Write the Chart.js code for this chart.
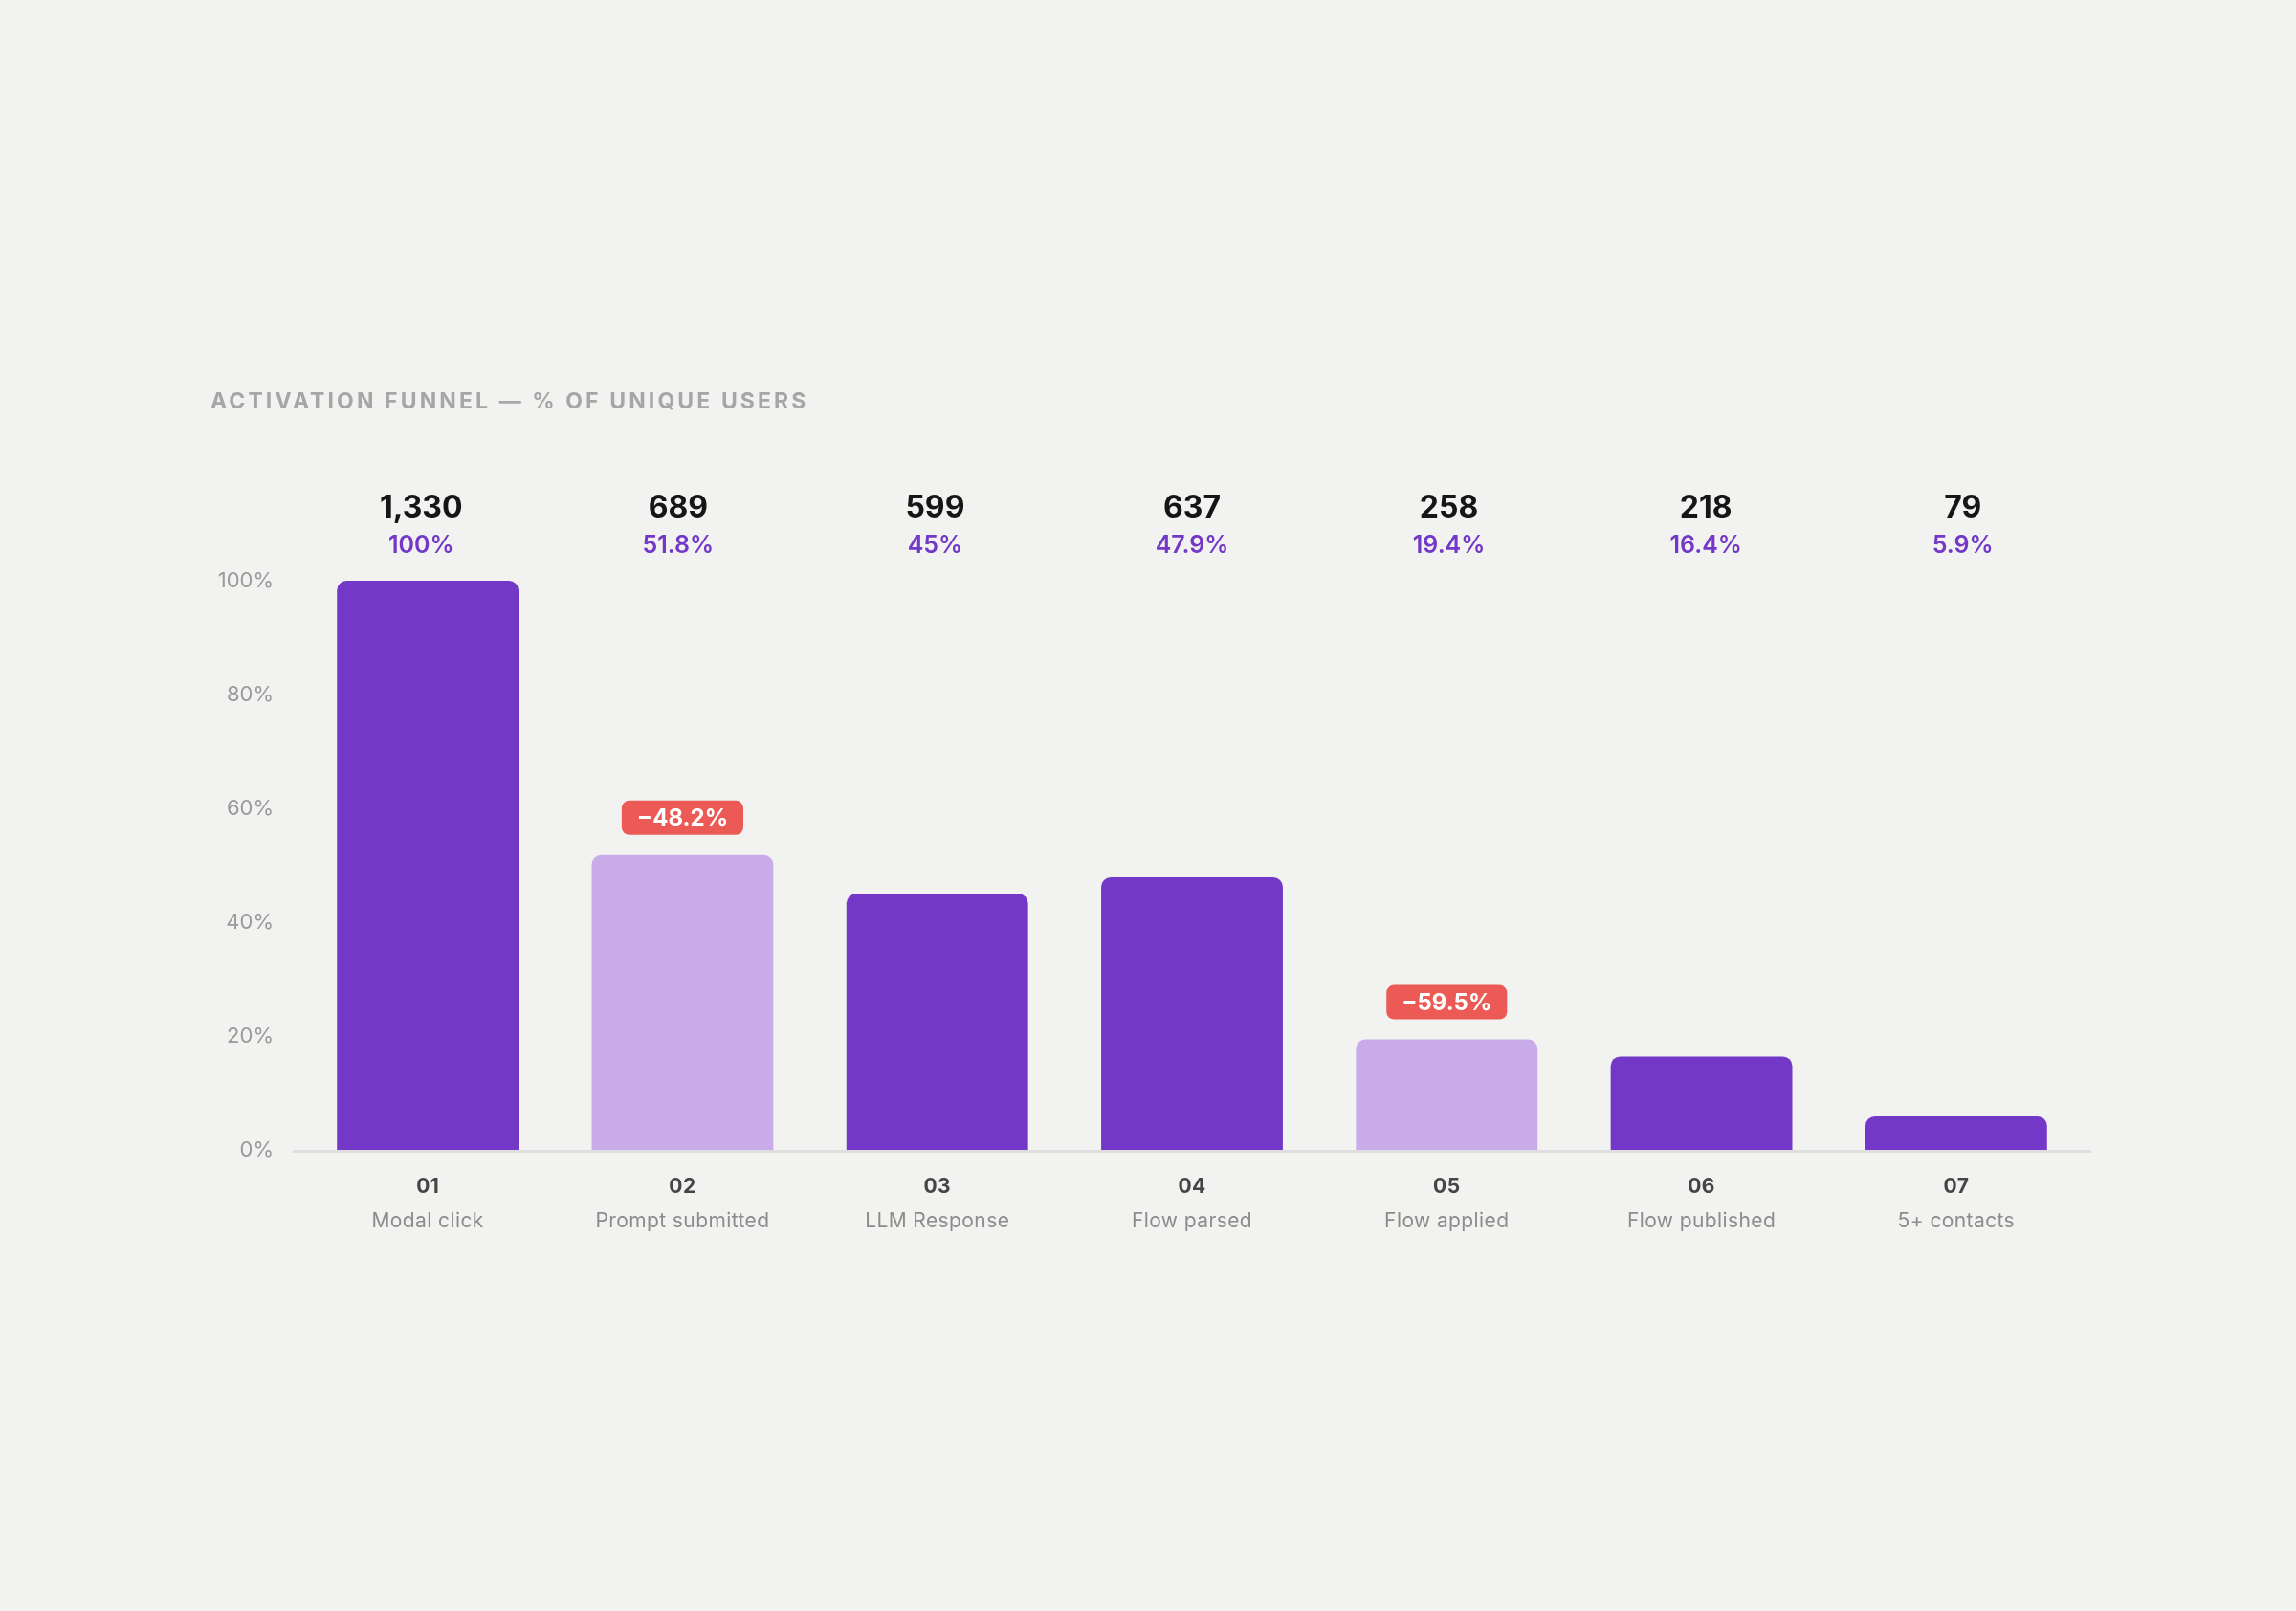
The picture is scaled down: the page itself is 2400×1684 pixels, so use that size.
<!DOCTYPE html>
<html><head><meta charset="utf-8">
<script src="https://cdn.jsdelivr.net/npm/chart.js@4"></script>
<style>html,body{margin:0;padding:0;background:#f2f2f0;}canvas{display:block}</style>
</head><body>
<canvas id="c" width="2400" height="1684"></canvas>
<script>
const chartTitle = "ACTIVATION FUNNEL — % OF UNIQUE USERS";
const stepCodes = ["01","02","03","04","05","06","07"];
const stepNames = ["Modal click","Prompt submitted","LLM Response","Flow parsed","Flow applied","Flow published","5+ contacts"];
const userCounts = [1330,689,599,637,258,218,79];
const sharePct = [100,51.8,45,47.9,19.4,16.4,5.9];
const dropLabels = [null,"−48.2%",null,null,"−59.5%",null,null];
const yTickValues = [0,20,40,60,80,100];

const DARK = "#7338c7", LIGHT = "#c9abe9", FONT = "Inter, 'Noto Sans', sans-serif";
const barColors = dropLabels.map(d => d ? LIGHT : DARK);

const overlay = {
  id: "overlay",
  beforeDatasetsDraw(chart) {
    const {ctx, chartArea: a} = chart;
    ctx.save();
    ctx.fillStyle = "#dedede";
    ctx.fillRect(a.left - 8, a.bottom, a.right - a.left + 16, 3);
    ctx.restore();
  },
  afterDatasetsDraw(chart) {
    const {ctx, chartArea: a, scales} = chart;
    const xs = scales.x, ys = scales.y;
    ctx.save();
    // title
    ctx.fillStyle = "#a6a6a6";
    ctx.font = "700 23px " + FONT;
    ctx.letterSpacing = "3.1px";
    ctx.textAlign = "left"; ctx.textBaseline = "middle";
    ctx.fillText(chartTitle, 220, 420);
    ctx.letterSpacing = "0px";
    // top labels grid
    const L = a.left - 8, R = a.right + 8, w = (R - L) / userCounts.length;
    ctx.textAlign = "center";
    userCounts.forEach((n, i) => {
      const cx = L + (i + 0.5) * w;
      ctx.fillStyle = "#161616";
      ctx.font = "700 32px " + FONT;
      ctx.fillText(n.toLocaleString("en-US"), cx, a.top - 76);
      ctx.fillStyle = DARK;
      ctx.font = "600 25px " + FONT;
      ctx.fillText(sharePct[i] + "%", cx, a.top - 37);
    });
    // x labels
    stepCodes.forEach((c, i) => {
      const cx = xs.getPixelForValue(i);
      ctx.fillStyle = "#454545";
      ctx.font = "700 21px " + FONT;
      ctx.letterSpacing = "0.4px";
      ctx.fillText(c, cx, a.bottom + 39);
      ctx.fillStyle = "#8c8c8c";
      ctx.font = "400 21px " + FONT;
      ctx.fillText(stepNames[i], cx, a.bottom + 75);
      ctx.letterSpacing = "0px";
    });
    // drop badges
    dropLabels.forEach((d, i) => {
      if (!d) return;
      const cx = xs.getPixelForValue(i);
      const top = ys.getPixelForValue(sharePct[i]);
      const cy = top - 39;
      ctx.font = "700 24px " + FONT;
      const tw = ctx.measureText(d).width;
      const bw = tw + 32, bh = 36;
      ctx.fillStyle = "#ec5a55";
      ctx.beginPath();
      ctx.roundRect(cx - bw / 2, cy - bh / 2, bw, bh, 8);
      ctx.fill();
      ctx.fillStyle = "#ffffff";
      ctx.fillText(d, cx, cy + 1);
    });
    ctx.restore();
  }
};

new Chart(document.getElementById("c"), {
  type: "bar",
  data: {
    labels: stepNames,
    datasets: [{
      data: sharePct,
      backgroundColor: barColors,
      borderRadius: 10,
      borderSkipped: "start",
      categoryPercentage: 1,
      barPercentage: 0.713
    }]
  },
  options: {
    responsive: false,
    devicePixelRatio: 1,
    animation: false,
    layout: {padding: {top: 607, right: 222, bottom: 0, left: 0}},
    plugins: {legend: {display: false}, tooltip: {enabled: false}},
    scales: {
      x: {
        display: true,
        grid: {display: false, drawTicks: false},
        border: {display: false},
        ticks: {display: false},
        afterFit(s) { s.height = 482; }
      },
      y: {
        min: 0, max: 100,
        afterBuildTicks(s) { s.ticks = yTickValues.map(v => ({value: v})); },
        grid: {display: false, drawTicks: false},
        border: {display: false},
        ticks: {
          padding: 28,
          color: "#9a9a9a",
          font: {family: FONT, size: 22},
          callback: v => v + "%"
        },
        afterFit(s) { s.width = 314; }
      }
    }
  },
  plugins: [overlay]
});
</script>
</body></html>
